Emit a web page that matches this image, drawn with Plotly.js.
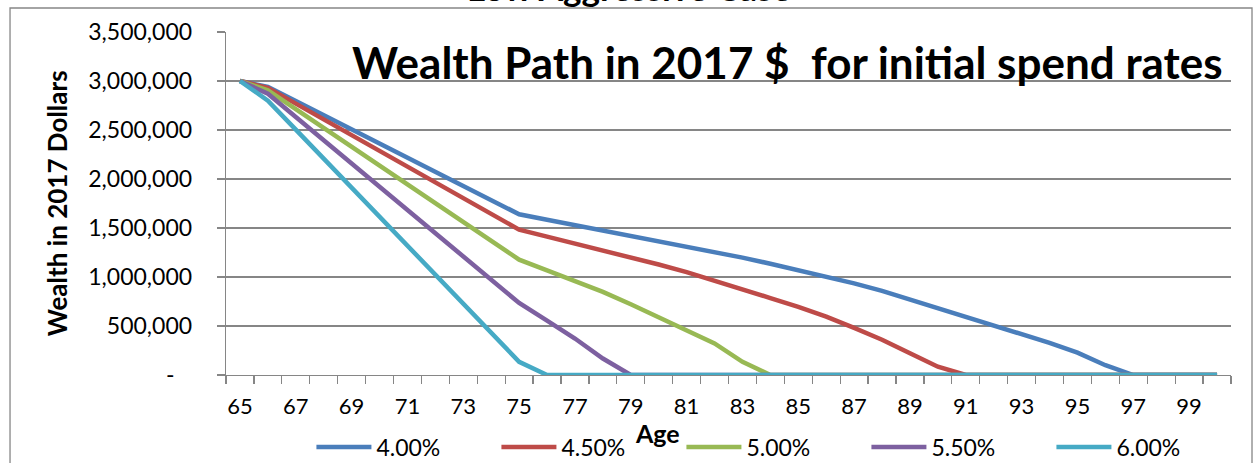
<!DOCTYPE html>
<html>
<head>
<meta charset="utf-8">
<script src="https://cdn.plot.ly/plotly-3.0.1.min.js"></script>
<style>
  html, body { margin: 0; padding: 0; background: #fff; }
  #chart { width: 1255px; height: 463px; }
</style>
</head>
<body>
<div id="chart"></div>
<script>
// ---- Data ----
const ages = [65,66,67,68,69,70,71,72,73,74,75,76,77,78,79,80,81,82,83,84,85,86,87,88,89,90,91,92,93,94,95,96,97,98,99,100];

const rate400 = [3000000,2940000,2795000,2650000,2505000,2360000,2215000,2070000,1925000,1780000,1640000,1585000,1530000,1478000,1425000,1368000,1310000,1255000,1198000,1135000,1072000,1008000,935000,858000,770000,678000,588000,500000,415000,328000,228000,100000,0,0,0,0];

const rate450 = [3000000,2930000,2769000,2608000,2448000,2287000,2126000,1965000,1805000,1644000,1483000,1412000,1343000,1274000,1202000,1127000,1050000,965000,875000,785000,695000,595000,480000,360000,222000,85000,0,0,0,0,0,0,0,0,0,0];

const rate500 = [3000000,2905000,2713000,2521000,2329000,2137000,1945000,1753000,1561000,1369000,1177000,1068000,960000,848000,722000,592000,460000,322000,135000,0,0,0,0,0,0,0,0,0,0,0,0,0,0,0,0,0];

const rate550 = [3000000,2870000,2633000,2396000,2158000,1921000,1684000,1447000,1209000,972000,735000,555000,372000,168000,0,0,0,0,0,0,0,0,0,0,0,0,0,0,0,0,0,0,0,0,0,0];

const rate600 = [3000000,2800000,2504000,2208000,1912000,1616000,1320000,1023000,727000,431000,135000,0,0,0,0,0,0,0,0,0,0,0,0,0,0,0,0,0,0,0,0,0,0,0,0,0];

const seriesNames = ["4.00%","4.50%","5.00%","5.50%","6.00%"];
const seriesValues = [rate400, rate450, rate500, rate550, rate600];
const seriesColors = ["#4A7EBB","#BE4B48","#98B954","#7D60A0","#46AAC5"];

const xTickVals = [65,67,69,71,73,75,77,79,81,83,85,87,89,91,93,95,97,99];
const xTickText = ["65","67","69","71","73","75","77","79","81","83","85","87","89","91","93","95","97","99"];
const yTickVals = [0,500000,1000000,1500000,2000000,2500000,3000000,3500000];
const yTickText = ["-\u00a0\u00a0\u00a0","500,000","1,000,000","1,500,000","2,000,000","2,500,000","3,000,000","3,500,000"];

const chartTitle = "Wealth Path in 2017 $\u00a0 for initial spend rates";
const topCutTitle = "Low Aggressive Case";
const yTitle = "Wealth in 2017 Dollars";
const xTitle = "Age";

// ---- Chart ----
const FONT = "Lato, 'Open Sans', sans-serif";
const GREY = "#868686";

const traces = seriesNames.map((name, i) => ({
  type: "scatter",
  mode: "lines",
  name: name,
  x: ages,
  y: seriesValues[i],
  line: { color: seriesColors[i], width: 4.5 },
  hoverinfo: "skip"
}));

// category boundaries for tick marks (between categories, Excel style)
const boundaries = [];
for (let i = 0; i <= ages.length; i++) boundaries.push(ages[0] - 0.5 + i);

const layout = {
  width: 1255,
  height: 463,
  margin: { l: 226, r: 24, t: 32, b: 88, pad: 0, autoexpand: false },
  paper_bgcolor: "#ffffff",
  plot_bgcolor: "#ffffff",
  font: { family: FONT, color: "#000000", size: 21 },
  showlegend: true,
  xaxis: {
    type: "linear",
    range: [ages[0] - 0.5, ages[ages.length - 1] + 0.5],
    tickmode: "array",
    tickvals: xTickVals,
    ticktext: xTickText,
    ticks: "",
    showgrid: false,
    zeroline: false,
    showline: true,
    linecolor: GREY,
    linewidth: 1.3,
    ticklabelstandoff: 11,
    tickfont: { family: FONT, size: 22, color: "#000" },
    minor: {
      tickmode: "array",
      tickvals: boundaries,
      ticks: "outside",
      ticklen: 8,
      tickwidth: 1.3,
      tickcolor: GREY,
      showgrid: false
    },
    fixedrange: true
  },
  yaxis: {
    range: [0, 3500000],
    tickmode: "array",
    tickvals: yTickVals,
    ticktext: yTickText,
    ticks: "outside",
    ticklen: 8,
    tickwidth: 1.3,
    tickcolor: GREY,
    showgrid: true,
    gridcolor: GREY,
    gridwidth: 1.3,
    zeroline: false,
    showline: true,
    linecolor: GREY,
    linewidth: 1.3,
    ticklabelstandoff: 20,
    tickfont: { family: FONT, size: 23, color: "#000" },
    fixedrange: true
  },
  legend: {
    orientation: "h",
    x: 0.085,
    y: -0.21,
    xanchor: "left",
    yanchor: "middle",
    entrywidth: 115,
    entrywidthmode: "pixels",
    itemwidth: 55,
    font: { family: FONT, size: 23, color: "#000" },
    bgcolor: "rgba(0,0,0,0)",
    traceorder: "normal"
  },
  annotations: [
    {
      text: "<b>" + chartTitle + "</b>",
      xref: "paper", yref: "paper",
      x: 0.994, y: 0.9125,
      xanchor: "right", yanchor: "middle",
      showarrow: false,
      font: { family: FONT, size: 44, color: "#000" }
    },
    {
      text: "<b>" + topCutTitle + "</b>",
      xref: "paper", yref: "paper",
      x: 0.401, y: 1.0627,
      xanchor: "center", yanchor: "bottom",
      showarrow: false,
      font: { family: FONT, size: 35, color: "#000" }
    },
    {
      text: "<b>" + yTitle + "</b>",
      xref: "paper", yref: "paper",
      x: -0.168, y: 0.501,
      xanchor: "center", yanchor: "middle",
      textangle: -90,
      showarrow: false,
      font: { family: FONT, size: 26, color: "#000" }
    },
    {
      text: "<b>" + xTitle + "</b>",
      xref: "paper", yref: "paper",
      x: 0.4289, y: -0.169,
      xanchor: "center", yanchor: "middle",
      showarrow: false,
      font: { family: FONT, size: 25, color: "#000" }
    }
  ],
  shapes: [
    {
      type: "rect",
      xref: "paper", yref: "paper",
      x0: -0.2149, x1: 1.0209, y0: -0.32, y1: 1.07,
      line: { color: GREY, width: 1.3 },
      fillcolor: "rgba(0,0,0,0)",
      layer: "below"
    }
  ]
};

Plotly.newPlot("chart", traces, layout, { displayModeBar: false, staticPlot: true });
</script>
</body>
</html>
